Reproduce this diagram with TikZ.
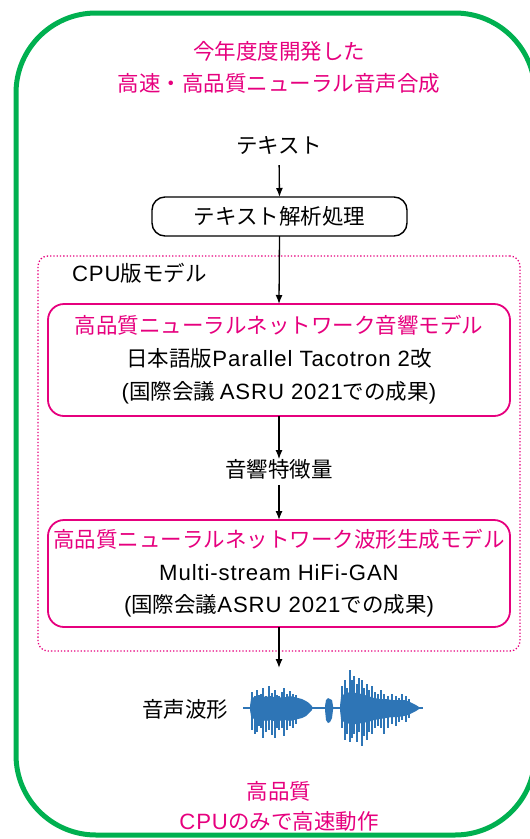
\documentclass[tikz,border=0pt]{standalone}
\usepackage{fontspec}
\setmainfont{Noto Sans CJK JP}
\newfontfamily\latf{Liberation Sans}[Scale=1.03,LetterSpace=4]
\usetikzlibrary{arrows.meta}
\definecolor{pinkc}{RGB}{230,0,126}
\definecolor{greenc}{RGB}{0,176,80}
\definecolor{wavec}{RGB}{46,117,182}
\tikzset{
  base/.style={font=\fontsize{21.5}{26}\selectfont, inner sep=0pt, outer sep=0pt},
  pinktext/.style={base, text=pinkc},
  arr/.style={-{Latex[length=9pt,width=7pt]}, line width=1.3pt},
  anabox/.style={base, draw, line width=1.4pt, rounded corners=13pt, minimum width=255pt, minimum height=39pt},
  modelbox/.style={base, draw=pinkc, line width=1.8pt, rounded corners=16pt, minimum width=462pt, align=center},
  cpuframe/.style={draw=pinkc, dotted, line width=1.3pt, rounded corners=10pt, inner sep=0pt, minimum width=482pt, minimum height=395pt},
  outerframe/.style={draw=greenc, line width=5pt, rounded corners=80pt},
  spike/.style={draw=wavec, line width=1.6pt},
}
\begin{document}
\begin{tikzpicture}[x=1pt,y=-1pt]
\useasboundingbox (0,0) rectangle (530,839);
\draw[outerframe] (16,13) rectangle (535,835);
% title
\node[pinktext] (t1) at (279,51) {今年度度開発した};
\node[pinktext] (t2) at (279,83) {高速・高品質ニューラル音声合成};
% text input
\node[base] (txt) at (279,146) {テキスト};
\node[anabox] (ana) at (279.5,216.5) {テキスト解析処理};
% CPU frame
\node[cpuframe] (cpu) at (279,453.5) {};
\node[base, anchor=west] (cpulab) at (72,273) {{\latf CPU}版モデル};
% model 1
\node[modelbox, minimum height=112pt, font=\fontsize{21.5}{33}\selectfont] (m1) at (279,360)
  {{\color{pinkc}高品質ニューラルネットワーク音響モデル}\\日本語版{\latf Parallel Tacotron 2}改\\{\latf (}国際会議 {\latf ASRU 2021}での成果{\latf )}};
\node[base] (feat) at (279,469) {音響特徴量};
% model 2
\node[modelbox, minimum height=107pt, font=\fontsize{21.5}{32.5}\selectfont] (m2) at (279,573.5)
  {{\color{pinkc}高品質ニューラルネットワーク波形生成モデル}\\{\latf Multi-stream HiFi-GAN}\\{\latf (}国際会議{\latf ASRU 2021}での成果{\latf )}};
% waveform
\coordinate (wavetop) at (279,668);
\node[base] (wlab) at (185,709) {音声波形};
\draw[wavec, line width=1.1pt] (243,708) -- (423,708);
% blob 1 base
\fill[wavec] (250,706) -- (251,699) -- (254,697) -- (258,698) -- (262,696) -- (266,697) -- (270,696) -- (274,697) -- (278,698) -- (282,697) -- (286,697) -- (290,696) -- (294,697) -- (298,698) -- (302,699) -- (306,701) -- (309,703) -- (312,706)
  -- (312,710) -- (309,713) -- (306,716) -- (302,718) -- (298,719) -- (294,720) -- (290,721) -- (286,720) -- (282,721) -- (278,720) -- (274,721) -- (270,720) -- (266,721) -- (262,720) -- (258,720) -- (254,719) -- (251,716) -- (250,710) -- cycle;
\foreach \x/\u/\d in {252/16/22, 255/12/26, 257/18/24, 259/13/18, 261/14/20, 263/20/30, 266/12/24, 269/22/22, 272/15/27, 275/18/30, 277/13/20, 279/12/22, 282/16/20, 284/20/28, 287/14/22, 290/17/18, 293/14/20, 296/13/16}
  \draw[spike] (\x,708-\u) -- (\x,708+\d);
% blob 2
\fill[wavec] (325,706) -- (326,700) -- (328,698) -- (330,699) -- (332,700) -- (333,706) -- (333,710) -- (332,718) -- (330,722) -- (328,723) -- (326,720) -- (325,710) -- cycle;
% blob 3 base
\fill[wavec] (340,706) -- (341,697) -- (344,694) -- (350,692) -- (356,693) -- (362,694) -- (368,696) -- (374,698) -- (380,699) -- (386,699) -- (392,700) -- (398,700) -- (404,700) -- (408,701) -- (412,703) -- (416,705) -- (419,707)
  -- (419,709) -- (416,711) -- (412,713) -- (408,715) -- (404,716) -- (398,717) -- (392,717) -- (386,718) -- (380,719) -- (374,720) -- (368,722) -- (362,723) -- (356,724) -- (350,724) -- (344,722) -- (341,719) -- (340,710) -- cycle;
\foreach \x/\u/\d in {342/22/20, 345/28/32, 347/20/26, 350/38/34, 352/28/30, 354/32/26, 357/24/34, 359/30/24, 362/28/38, 364/20/28, 367/24/32, 369/18/24, 372/22/26, 375/16/20, 378/14/18, 381/18/20, 384/14/26, 388/12/20, 392/14/16, 396/12/18, 399/10/14, 402/14/12, 406/12/14, 409/9/10}
  \draw[spike] (\x,708-\u) -- (\x,708+\d);
% bottom
\node[pinktext] (b1) at (279,791) {高品質};
\node[pinktext] (b2) at (279,821) {{\latf CPU}のみで高速動作};
% arrows
\draw[arr, shorten <=10pt] (txt.south) -- (ana.north);
\draw[arr] (ana.south) -- (m1.north);
\draw[arr] (m1.south) -- (feat.north) ;
\draw[arr, shorten <=6pt] (feat.south) -- (m2.north);
\draw[arr] (m2.south) -- (wavetop);
\end{tikzpicture}
\end{document}
